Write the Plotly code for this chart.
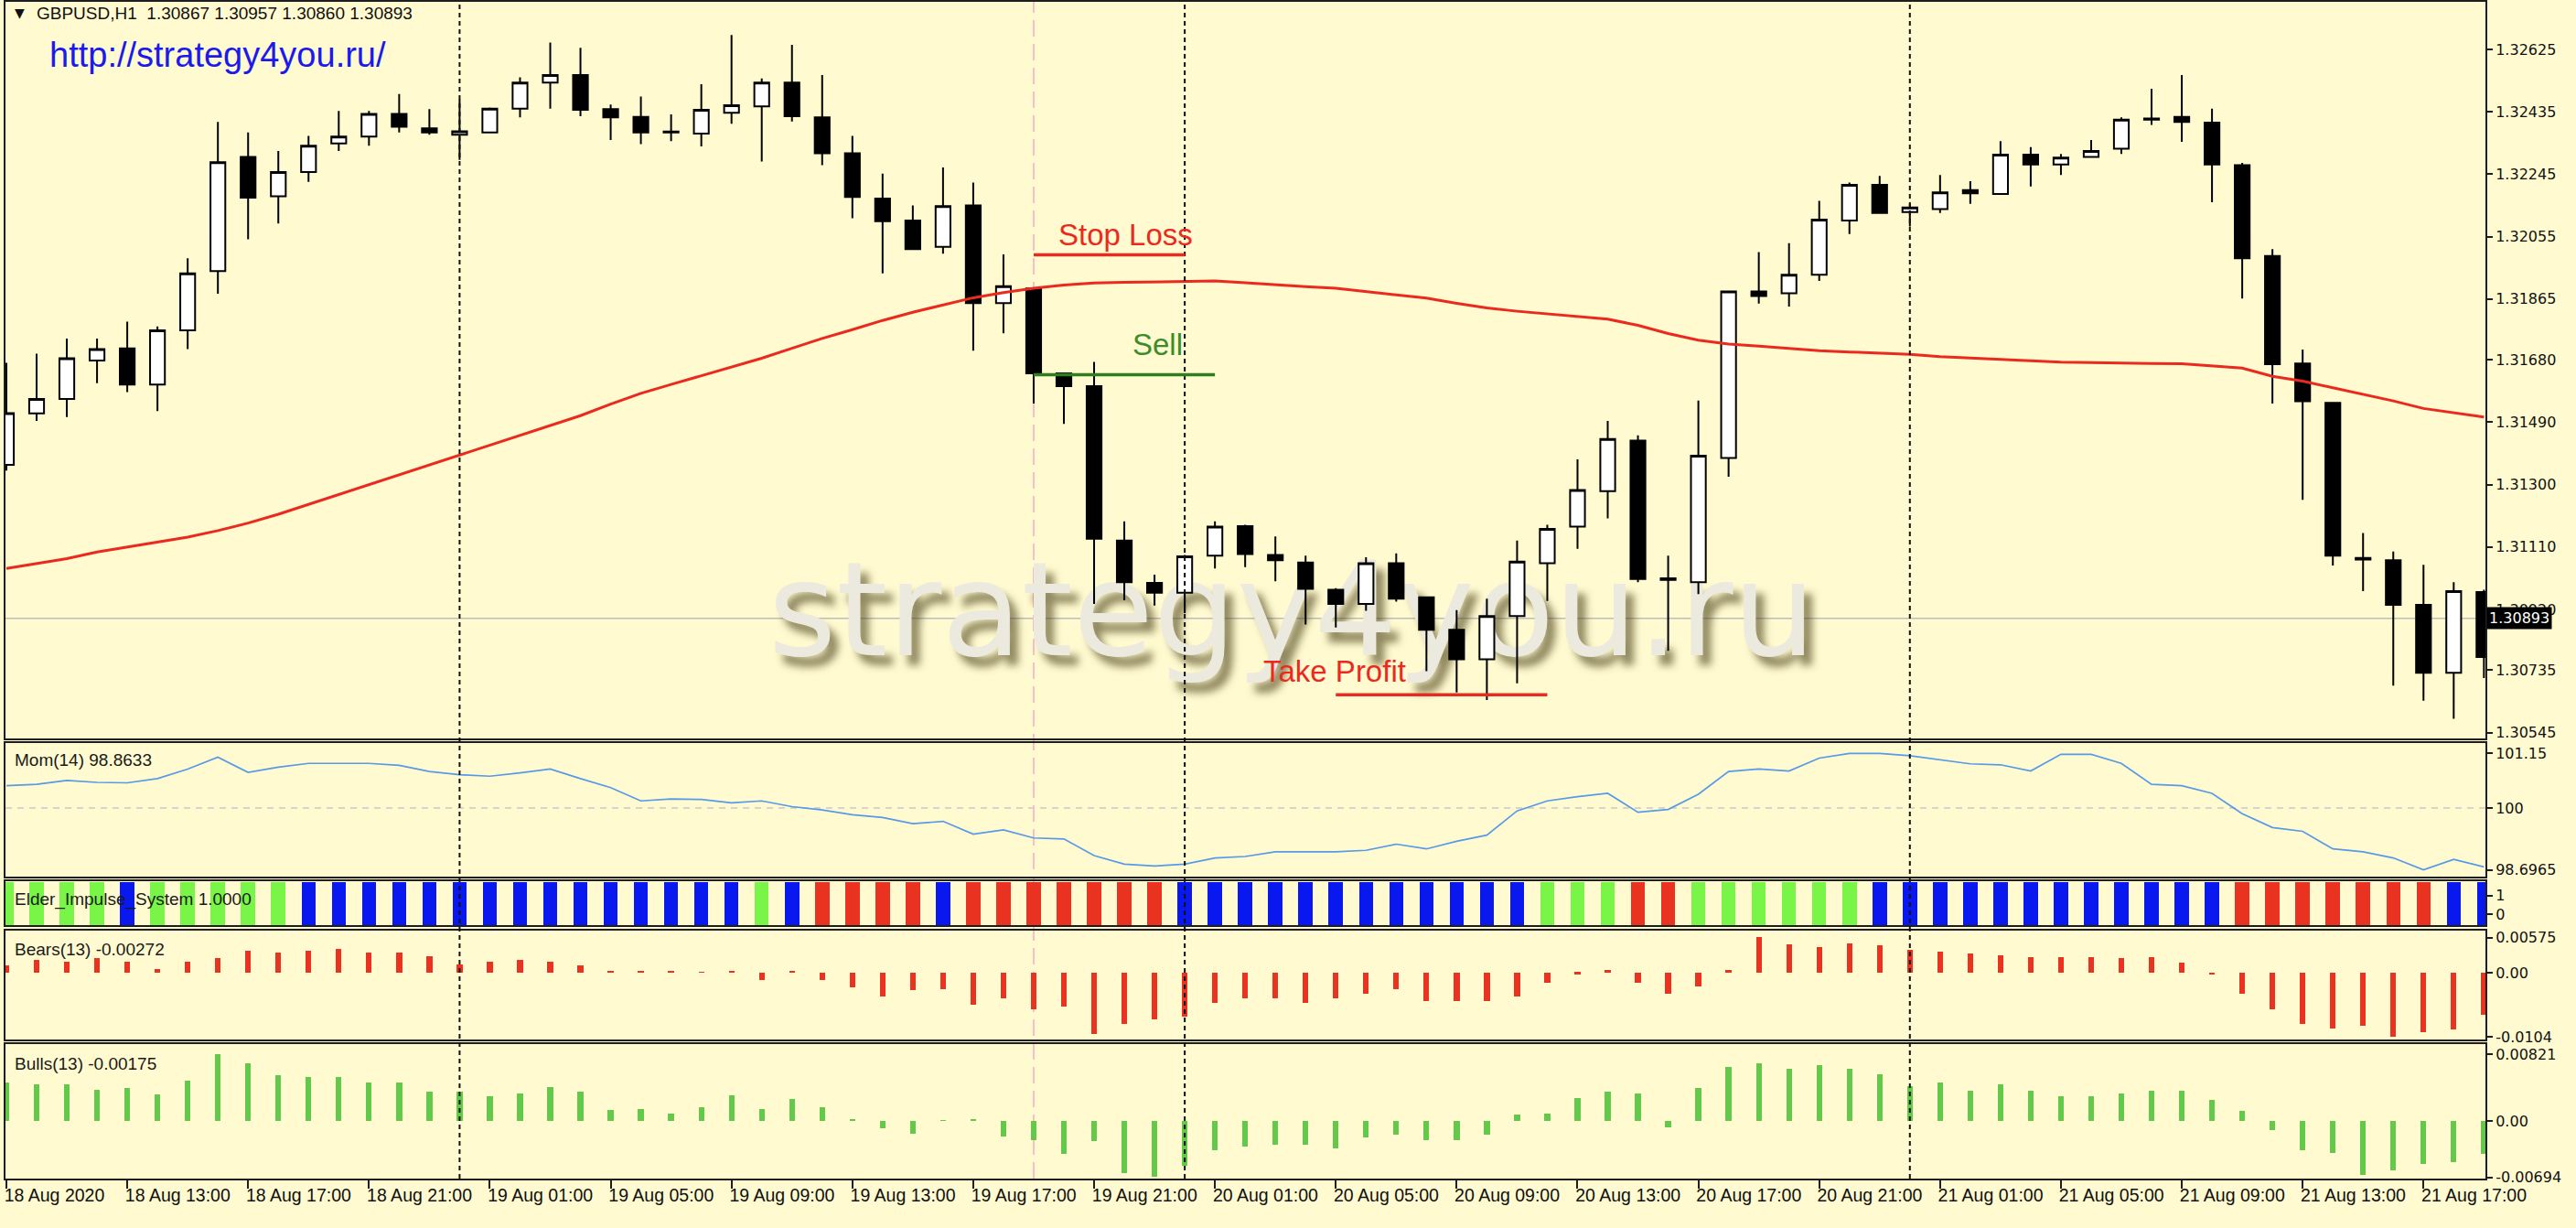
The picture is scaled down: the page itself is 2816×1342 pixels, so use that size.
import plotly.graph_objects as go

# ---------------- data ----------------
N_BARS = 83
BAR = list(range(N_BARS))  # H1 bars, 18 Aug 2020 09:00 ... 21 Aug 2020 19:00

TICK_BARS = [0, 4, 8, 12, 16, 20, 24, 28, 32, 36, 40, 44, 48, 52, 56, 60, 64, 68, 72, 76, 80]
TICK_LABELS = ["18 Aug 2020", "18 Aug 13:00", "18 Aug 17:00", "18 Aug 21:00",
               "19 Aug 01:00", "19 Aug 05:00", "19 Aug 09:00", "19 Aug 13:00",
               "19 Aug 17:00", "19 Aug 21:00", "20 Aug 01:00", "20 Aug 05:00",
               "20 Aug 09:00", "20 Aug 13:00", "20 Aug 17:00", "20 Aug 21:00",
               "21 Aug 01:00", "21 Aug 05:00", "21 Aug 09:00", "21 Aug 13:00",
               "21 Aug 17:00"]

OPEN = [1.31360, 1.31517, 1.31561, 1.31678, 1.31715, 1.31605, 1.31770, 1.31950, 1.32298, 1.32178,
        1.32252, 1.32339, 1.32360, 1.32429, 1.32385, 1.32365, 1.32372, 1.32445, 1.32524, 1.32547,
        1.32443, 1.32420, 1.32372, 1.32369, 1.32432, 1.32452, 1.32524, 1.32418, 1.32309, 1.32171,
        1.32104, 1.32024, 1.32150, 1.31853, 1.31897, 1.31639, 1.31600, 1.31130, 1.31001, 1.30971,
        1.31084, 1.31174, 1.31086, 1.31063, 1.30980, 1.30937, 1.31061, 1.30957, 1.30858, 1.30768,
        1.30900, 1.31061, 1.31172, 1.31280, 1.31434, 1.31015, 1.31003, 1.31381, 1.31888, 1.31883,
        1.31939, 1.32104, 1.32213, 1.32130, 1.32139, 1.32197, 1.32185, 1.32305, 1.32275, 1.32298,
        1.32323, 1.32411, 1.32420, 1.32402, 1.32273, 1.31996, 1.31669, 1.31549, 1.31077, 1.31070,
        1.30934, 1.30727, 1.30973]
HIGH = [1.31671, 1.31699, 1.31745, 1.31745, 1.31796, 1.31782, 1.31989, 1.32404, 1.32372, 1.32316,
        1.32362, 1.32438, 1.32438, 1.32489, 1.32443, 1.32473, 1.32448, 1.32540, 1.32646, 1.32630,
        1.32457, 1.32482, 1.32427, 1.32519, 1.32669, 1.32537, 1.32639, 1.32547, 1.32362, 1.32247,
        1.32150, 1.32266, 1.32220, 1.32001, 1.31900, 1.31642, 1.31674, 1.31188, 1.31026, 1.31086,
        1.31188, 1.31178, 1.31142, 1.31084, 1.30985, 1.31079, 1.31091, 1.30960, 1.30918, 1.30953,
        1.31130, 1.31178, 1.31377, 1.31494, 1.31450, 1.31084, 1.31556, 1.31890, 1.32008, 1.32035,
        1.32164, 1.32220, 1.32240, 1.32155, 1.32243, 1.32224, 1.32346, 1.32328, 1.32307, 1.32349,
        1.32418, 1.32505, 1.32547, 1.32445, 1.32280, 1.32017, 1.31711, 1.31552, 1.31153, 1.31096,
        1.31056, 1.31003, 1.30980]
LOW = [1.31343, 1.31494, 1.31506, 1.31609, 1.31582, 1.31524, 1.31713, 1.31881, 1.32047, 1.32095,
       1.32222, 1.32316, 1.32332, 1.32372, 1.32365, 1.32289, 1.32370, 1.32418, 1.32445, 1.32422,
       1.32349, 1.32337, 1.32346, 1.32330, 1.32399, 1.32284, 1.32406, 1.32273, 1.32111, 1.31943,
       1.32015, 1.32003, 1.31708, 1.31761, 1.31547, 1.31485, 1.30937, 1.30948, 1.30932, 1.30909,
       1.31045, 1.31049, 1.31006, 1.30874, 1.30865, 1.30916, 1.30944, 1.30732, 1.30667, 1.30644,
       1.30695, 1.30946, 1.31105, 1.31197, 1.31003, 1.30794, 1.30967, 1.31324, 1.31851, 1.31842,
       1.31920, 1.32063, 1.32125, 1.32086, 1.32127, 1.32155, 1.32184, 1.32208, 1.32243, 1.32297,
       1.32307, 1.32395, 1.32344, 1.32160, 1.31867, 1.31547, 1.31254, 1.31054, 1.30976, 1.30688,
       1.30642, 1.30587, 1.30711]
CLOSE = [1.31518, 1.31561, 1.31685, 1.31713, 1.31605, 1.31770, 1.31943, 1.32282, 1.32174, 1.32252,
         1.32332, 1.32360, 1.32429, 1.32390, 1.32372, 1.32376, 1.32445, 1.32524, 1.32547, 1.32441,
         1.32418, 1.32372, 1.32375, 1.32441, 1.32455, 1.32524, 1.32422, 1.32309, 1.32176, 1.32102,
         1.32017, 1.32148, 1.31853, 1.31904, 1.31639, 1.31600, 1.31135, 1.31003, 1.30971, 1.31082,
         1.31172, 1.31089, 1.31070, 1.30983, 1.30937, 1.31061, 1.30953, 1.30858, 1.30768, 1.30900,
         1.31066, 1.31165, 1.31284, 1.31439, 1.31013, 1.31010, 1.31388, 1.31888, 1.31874, 1.31939,
         1.32107, 1.32213, 1.32127, 1.32144, 1.32190, 1.32187, 1.32305, 1.32275, 1.32296, 1.32316,
         1.32411, 1.32415, 1.32404, 1.32275, 1.31989, 1.31667, 1.31554, 1.31084, 1.31072, 1.30934,
         1.30727, 1.30976, 1.30775]

MA = [1.31045, 1.31060, 1.31075, 1.31095, 1.31110, 1.31125, 1.31140, 1.31160, 1.31183, 1.31210,
      1.31240, 1.31270, 1.31300, 1.31330, 1.31360, 1.31390, 1.31420, 1.31450, 1.31480, 1.31510,
      1.31545, 1.31578, 1.31605, 1.31632, 1.31660, 1.31685, 1.31715, 1.31745, 1.31772, 1.31800,
      1.31825, 1.31848, 1.31869, 1.31885, 1.31898, 1.31908, 1.31914, 1.31916, 1.31917, 1.31917,
      1.31920, 1.31915, 1.31908, 1.31903, 1.31898, 1.31888, 1.31878, 1.31868, 1.31852, 1.31838,
      1.31828, 1.31820, 1.31812, 1.31804, 1.31785, 1.31760, 1.31740, 1.31728, 1.31722, 1.31715,
      1.31708, 1.31704, 1.31700, 1.31697, 1.31690, 1.31685, 1.31681, 1.31677, 1.31673, 1.31671,
      1.31670, 1.31669, 1.31668, 1.31662, 1.31655, 1.31630, 1.31615, 1.31595, 1.31575, 1.31555,
      1.31532, 1.31518, 1.31506]

MOM = [100.47, 100.50, 100.58, 100.54, 100.53, 100.62, 100.82, 101.07, 100.75, 100.86,
       100.94, 100.94, 100.94, 100.90, 100.77, 100.70, 100.67, 100.74, 100.82, 100.62,
       100.43, 100.15, 100.19, 100.18, 100.11, 100.15, 100.03, 99.96, 99.86, 99.80,
       99.67, 99.72, 99.45, 99.54, 99.37, 99.35, 99.00, 98.82, 98.78, 98.82,
       98.95, 98.98, 99.08, 99.08, 99.08, 99.11, 99.24, 99.14, 99.30, 99.43,
       99.94, 100.15, 100.24, 100.31, 99.91, 99.97, 100.29, 100.77, 100.82, 100.78,
       101.05, 101.15, 101.15, 101.10, 101.02, 100.93, 100.91, 100.78, 101.13, 101.13,
       100.94, 100.50, 100.47, 100.31, 99.88, 99.59, 99.51, 99.14, 99.08, 98.95,
       98.70, 98.92, 98.76]

# Elder impulse state per bar: G = up (green), B = neutral (blue), R = down (red)
ELDER_STATE = ["G", "G", "G", "G", "B", "G", "G", "G", "G", "G",
               "B", "B", "B", "B", "B", "B", "B", "B", "B", "B",
               "B", "B", "B", "B", "B", "G", "B", "R", "R", "R",
               "R", "B", "R", "R", "R", "R", "R", "R", "R", "B",
               "B", "B", "B", "B", "B", "B", "B", "B", "B", "B",
               "B", "G", "G", "G", "R", "R", "G", "G", "G", "G",
               "G", "G", "B", "B", "B", "B", "B", "B", "B", "B",
               "B", "B", "B", "B", "R", "R", "R", "R", "R", "R",
               "R", "B", "B"]
ELDER_LEVEL = 1.0

BEARS = [0.00115, 0.00213, 0.00174, 0.00238, 0.00174, 0.00064, 0.00174, 0.00238, 0.00362, 0.00332,
         0.00362, 0.00387, 0.00332, 0.00332, 0.00273, 0.00139, 0.00174, 0.00213, 0.00174, 0.00115,
         0.00025, 0.00015, 0.00025, 0.00012, 0.00025, -0.00124, 0.00025, -0.00124, -0.00247, -0.00396,
         -0.00284, -0.00272, -0.00519, -0.00420, -0.00593, -0.00556, -0.01001, -0.00840, -0.00766, -0.00717,
         -0.00494, -0.00420, -0.00420, -0.00494, -0.00420, -0.00346, -0.00272, -0.00470, -0.00470, -0.00470,
         -0.00396, -0.00161, -0.00025, 0.00049, -0.00161, -0.00346, -0.00222, 0.00049, 0.00575, 0.00457,
         0.00420, 0.00482, 0.00445, 0.00371, 0.00346, 0.00309, 0.00284, 0.00260, 0.00260, 0.00260,
         0.00235, 0.00260, 0.00161, -0.00037, -0.00346, -0.00593, -0.00840, -0.00915, -0.00865, -0.01040,
         -0.00964, -0.00927, -0.00692]

BULLS = [0.00469, 0.00450, 0.00450, 0.00383, 0.00402, 0.00326, 0.00498, 0.00821, 0.00705, 0.00563,
         0.00543, 0.00543, 0.00469, 0.00469, 0.00357, 0.00357, 0.00300, 0.00338, 0.00413, 0.00357,
         0.00130, 0.00150, 0.00093, 0.00168, 0.00317, 0.00149, 0.00271, 0.00168, 0.00019, -0.00093,
         -0.00159, 0.00005, 0.00010, -0.00196, -0.00243, -0.00410, -0.00252, -0.00644, -0.00694, -0.00550,
         -0.00364, -0.00317, -0.00299, -0.00299, -0.00345, -0.00205, -0.00168, -0.00243, -0.00243, -0.00168,
         0.00075, 0.00093, 0.00280, 0.00364, 0.00336, -0.00075, 0.00401, 0.00662, 0.00709, 0.00644,
         0.00681, 0.00644, 0.00569, 0.00429, 0.00476, 0.00373, 0.00448, 0.00373, 0.00308, 0.00308,
         0.00336, 0.00373, 0.00373, 0.00261, 0.00121, -0.00112, -0.00364, -0.00392, -0.00672, -0.00606,
         -0.00532, -0.00504, -0.00410]

PRICE_TICKS = [1.30545, 1.30735, 1.30920, 1.31110, 1.31300, 1.31490,
               1.31680, 1.31865, 1.32055, 1.32245, 1.32435, 1.32625]
BID = 1.30893
HEADER = "GBPUSD,H1&nbsp;&nbsp;1.30867 1.30957 1.30860 1.30893"
DAY_SEPARATORS = [15, 39, 63]     # 19, 20, 21 Aug 00:00
SIGNAL_BAR = 34                   # 19 Aug 19:00
STOP_LOSS = dict(price=1.32000, start=34, end=39)
SELL = dict(price=1.31635, start=34, end=40)
TAKE_PROFIT = dict(price=1.30660, start=44, end=51)

# ---------------- styles ----------------
BG = "#FFFAD0"
FRAME = "#1e1e1e"
RED = "rgb(234,42,30)"
GREEN_LINE = "rgb(46,125,30)"
ELDER_COLORS = {"G": "rgb(120,245,70)", "B": "rgb(8,24,238)", "R": "rgb(234,50,32)"}
AX_FONT = dict(family="DejaVu Sans", size=16, color="#111111")
LBL_FONT = "Liberation Sans, Arial, sans-serif"

fig = go.Figure()

# watermark on the base price axis (drawn below the candles, which sit on an overlay axis)
fig.add_trace(go.Scatter(
    x=[42.55], y=[1.30880], mode="text", text=["strategy4you.ru"],
    textposition="middle center",
    textfont=dict(family="DejaVu Sans", size=143, color="rgb(236,234,222)",
                  shadow="9px 11px 8px rgba(70,60,20,0.6)"),
    xaxis="x", yaxis="y", hoverinfo="skip", showlegend=False))

fig.add_trace(go.Candlestick(
    x=BAR, open=OPEN, high=HIGH, low=LOW, close=CLOSE,
    xaxis="x", yaxis="y6", whiskerwidth=0,
    increasing=dict(line=dict(color="black", width=2), fillcolor="white"),
    decreasing=dict(line=dict(color="black", width=2), fillcolor="black"),
    hoverinfo="skip", showlegend=False))

fig.add_trace(go.Scatter(x=BAR, y=MA, mode="lines", line=dict(color=RED, width=3),
                         xaxis="x", yaxis="y6", hoverinfo="skip", showlegend=False))

fig.add_trace(go.Scatter(x=BAR, y=MOM, mode="lines", line=dict(color="rgb(86,154,232)", width=1.7),
                         xaxis="x2", yaxis="y2", hoverinfo="skip", showlegend=False))

fig.add_trace(go.Bar(x=BAR, y=[ELDER_LEVEL] * N_BARS, width=0.47,
                     marker=dict(color=[ELDER_COLORS[s] for s in ELDER_STATE], line=dict(width=0)),
                     xaxis="x3", yaxis="y3", hoverinfo="skip", showlegend=False))

fig.add_trace(go.Bar(x=BAR, y=BEARS, width=0.19, marker=dict(color="rgb(234,50,32)", line=dict(width=0)),
                     xaxis="x4", yaxis="y4", hoverinfo="skip", showlegend=False))

fig.add_trace(go.Bar(x=BAR, y=BULLS, width=0.19, marker=dict(color="rgb(98,201,74)", line=dict(width=0)),
                     xaxis="x5", yaxis="y5", hoverinfo="skip", showlegend=False))

X_RANGE = [-0.03, 82.05]
frame = dict(showline=True, linecolor=FRAME, linewidth=2, mirror=True,
             showgrid=False, zeroline=False, fixedrange=True)


def xax(anchor, bottom=False):
    d = dict(frame, anchor=anchor, range=X_RANGE, domain=[0, 1])
    if bottom:
        d.update(tickmode="array", tickvals=TICK_BARS, ticktext=TICK_LABELS, ticks="outside",
                 ticklen=9, tickwidth=1.5, tickcolor=FRAME, ticklabelposition="outside right",
                 ticklabelshift=-4,
                 tickfont=dict(family=LBL_FONT, size=19.5, color="#111111"))
    else:
        d.update(showticklabels=False, ticks="")
    return d


def yax(anchor, domain, rng, vals, texts):
    return dict(frame, side="right", anchor=anchor, domain=domain, range=rng,
                tickmode="array", tickvals=vals, ticktext=texts, ticks="outside", ticklen=6,
                tickwidth=1.5, tickcolor=FRAME, tickfont=AX_FONT)


ya_main = yax("x", [0.37422, 1.0], [1.30528, 1.32770], PRICE_TICKS, ["%.5f" % v for v in PRICE_TICKS])
ya_mom = yax("x2", [0.25699, 0.37034], [98.566, 101.373], [98.6965, 100, 101.15],
             ["98.6965", "100", "101.15"])
ya_eld = yax("x3", [0.21506, 0.25311], [-0.02, 1.02], [0.235, 0.68], ["0", "1"])
ya_bear = yax("x4", [0.11801, 0.21040], [-0.010877, 0.006854], [-0.0104, 0, 0.00575],
              ["-0.0104", "0.00", "0.00575"])
ya_bull = yax("x5", [0.0, 0.11413], [-0.00709, 0.00945], [-0.00694, 0, 0.00821],
              ["-0.00694", "0.00", "0.00821"])

shapes = []
# bid line
shapes.append(dict(type="line", xref="paper", x0=0, x1=1, yref="y", y0=BID, y1=BID,
                   line=dict(color="#bdbdbd", width=1.5), layer="below"))
# momentum 100 level
shapes.append(dict(type="line", xref="paper", x0=0, x1=1, yref="y2", y0=100, y1=100,
                   line=dict(color="#c9c9c9", width=1.5, dash="7px,6px"), layer="below"))
# signal bar (pink dashed)
shapes.append(dict(type="line", xref="x", x0=SIGNAL_BAR, x1=SIGNAL_BAR, yref="paper", y0=0, y1=1,
                   line=dict(color="#F7BFC8", width=2, dash="18px,8px"), layer="below"))
# day separators
for d in DAY_SEPARATORS:
    shapes.append(dict(type="line", xref="x", x0=d, x1=d, yref="paper", y0=0, y1=1,
                       line=dict(color="#111111", width=2, dash="5px,4px"), layer="above"))
# trade levels
for lvl, col in ((STOP_LOSS, RED), (SELL, GREEN_LINE), (TAKE_PROFIT, RED)):
    shapes.append(dict(type="line", xref="x", x0=lvl["start"], x1=lvl["end"], yref="y",
                       y0=lvl["price"], y1=lvl["price"], line=dict(color=col, width=3.5), layer="above"))

ann = []
ann.append(dict(xref="paper", yref="paper", x=0, y=1, xanchor="left", yanchor="top", xshift=8, yshift=-2,
                text="▼", showarrow=False, font=dict(family="DejaVu Sans", size=14, color="#111111")))
ann.append(dict(xref="paper", yref="paper", x=0, y=1, xanchor="left", yanchor="top", xshift=32, yshift=0,
                text=HEADER, showarrow=False,
                font=dict(family=LBL_FONT, size=19, color="#111111")))
ann.append(dict(xref="paper", yref="paper", x=0, y=1, xanchor="left", yanchor="top", xshift=46, yshift=-35,
                text="http://strategy4you.ru/", showarrow=False,
                font=dict(family=LBL_FONT, size=38, color="rgb(26,26,238)")))
ann.append(dict(xref="x", yref="y", x=34.76, y=1.32061, xanchor="left", yanchor="middle",
                text="Stop Loss", showarrow=False, font=dict(family=LBL_FONT, size=33, color=RED)))
ann.append(dict(xref="x", yref="y", x=37.2, y=1.31727, xanchor="left", yanchor="middle",
                text="Sell", showarrow=False, font=dict(family=LBL_FONT, size=33, color="rgb(60,140,40)")))
ann.append(dict(xref="x", yref="y", x=41.54, y=1.30731, xanchor="left", yanchor="middle",
                text="Take Profit", showarrow=False, font=dict(family=LBL_FONT, size=33, color=RED)))
# panel titles
for txt, yp in (("Mom(14) 98.8633", 0.3556), ("Elder_Impulse_System 1.0000", 0.2368),
                ("Bears(13) -0.00272", 0.1949), ("Bulls(13) -0.00175", 0.0978)):
    ann.append(dict(xref="paper", yref="paper", x=0, y=yp, xanchor="left", yanchor="middle", xshift=8,
                    text=txt, showarrow=False, font=dict(family=LBL_FONT, size=19, color="#1a1a1a")))
# bid price tag on the price scale
ann.append(dict(xref="paper", yref="y", x=1, y=BID, xanchor="left", yanchor="middle", xshift=1,
                text="%.5f" % BID, showarrow=False, bgcolor="black", borderpad=2,
                font=dict(family="DejaVu Sans", size=16, color="white")))

fig.update_layout(
    width=2816, height=1342,
    margin=dict(l=6, r=99, t=0, b=54),
    paper_bgcolor=BG, plot_bgcolor=BG,
    showlegend=False, hovermode=False, bargap=0,
    xaxis=dict(xax("y"), rangeslider=dict(visible=False)),
    xaxis2=dict(xax("y2"), matches="x"),
    xaxis3=dict(xax("y3"), matches="x"),
    xaxis4=dict(xax("y4"), matches="x"),
    xaxis5=dict(xax("y5", bottom=True), matches="x"),
    yaxis=ya_main, yaxis2=ya_mom, yaxis3=ya_eld, yaxis4=ya_bear, yaxis5=ya_bull,
    yaxis6=dict(overlaying="y", anchor="x", range=[1.30528, 1.32770], visible=False, fixedrange=True,
                showgrid=False, zeroline=False),
    shapes=shapes, annotations=ann,
)

fig.write_html("out.html", config={"displayModeBar": False},
               post_script="document.body.style.margin='0';document.body.style.overflow='hidden';")
